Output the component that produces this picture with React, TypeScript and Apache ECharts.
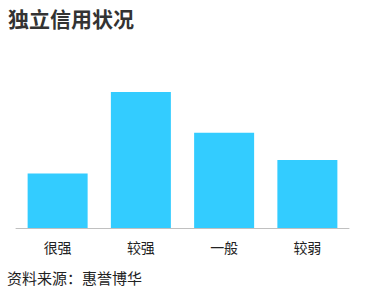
import React, { useEffect, useRef } from "react";
import * as echarts from "echarts";

const title = "独立信用状况";
const source = "资料来源：惠誉博华";
const categories = ["很强", "较强", "一般", "较弱"];
const values = [4, 10, 7, 5];

export default function App() {
  const ref = useRef<HTMLDivElement>(null);
  useEffect(() => {
    if (!ref.current) return;
    const chart = echarts.init(ref.current, undefined, { renderer: "svg" });
    chart.setOption({
      animation: false,
      backgroundColor: "#ffffff",
      title: {
        text: title,
        left: 8,
        top: 7,
        padding: 0,
        textStyle: {
          fontFamily: "Noto Sans CJK SC",
          fontSize: 21,
          fontWeight: "bold",
          color: "#333333",
        },
      },
      graphic: [
        {
          type: "text",
          left: 7,
          top: 270,
          style: {
            text: source,
            fontFamily: "Noto Sans CJK SC",
            fontSize: 15,
            fill: "#222222",
          },
        },
      ],
      grid: { left: 16, right: 18, top: 92, bottom: 65 },
      xAxis: {
        type: "category",
        data: categories,
        axisLine: { lineStyle: { color: "#c0c0c0", width: 1 } },
        axisTick: { show: false },
        axisLabel: {
          margin: 12,
          fontFamily: "Noto Sans CJK SC",
          fontSize: 14,
          color: "#222222",
        },
      },
      yAxis: {
        type: "value",
        min: 0,
        max: 10,
        show: false,
        splitLine: { show: false },
      },
      series: [
        {
          type: "bar",
          data: values,
          barWidth: 60,
          itemStyle: { color: "#33CCFF" },
        },
      ],
    });
    return () => chart.dispose();
  }, []);
  return <div ref={ref} style={{ width: 367, height: 293, position: "absolute", left: 0, top: 0 }} />;
}
